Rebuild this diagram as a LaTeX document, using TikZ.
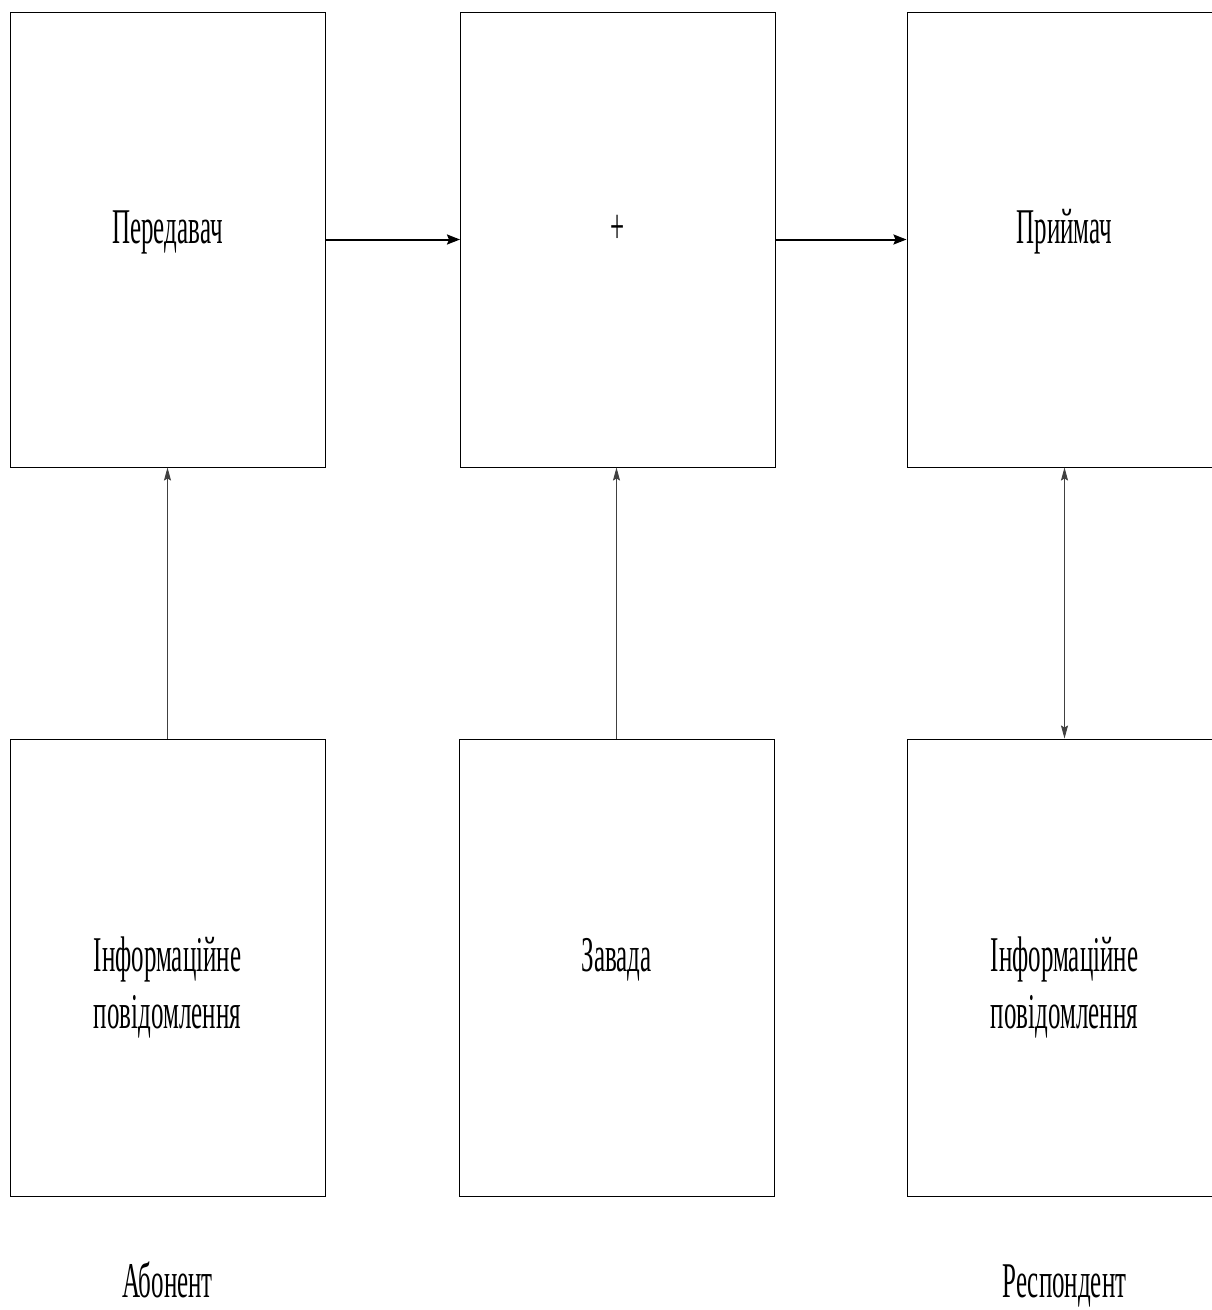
\documentclass[tikz,border=0pt]{standalone}
\usepackage{fontspec}
\setmainfont{Liberation Serif}
\newfontfamily\narrowfont[FakeStretch=0.5]{Liberation Serif}
\usetikzlibrary{arrows.meta,positioning}

\begin{document}
\begin{tikzpicture}[x=1pt,y=-1pt,>={Stealth[length=13pt,width=10pt,inset=2pt]},
 block/.style={draw,line width=1pt,minimum width=315pt,inner sep=0pt},
 txt/.style={font=\narrowfont\fontsize{50}{57}\selectfont,align=center,anchor=base},
 arr/.style={->,line width=2pt},
 link/.style={line width=0.9pt,draw=black!75,>={Stealth[length=13pt,width=7pt,inset=2pt]}}]
\useasboundingbox (0,0) rectangle (1212,1310);
\clip (0,0) rectangle (1212,1310);
% top row
\node[block,minimum height=455pt] (tx) at (167.5,239.5) {};
\node[block,minimum height=455pt] (sum) at (618,239.5) {};
\node[block,minimum height=455pt] (rx) at (1064.5,239.5) {};
% bottom row
\node[block,minimum height=457pt] (src) at (167.5,967.5) {};
\node[block,minimum height=457pt] (noise) at (616.5,967.5) {};
\node[block,minimum height=457pt] (dst) at (1064.5,967.5) {};
% texts
\node[txt] (txlbl) at ([yshift=-4pt]tx.center) {Передавач};
\node[txt] (sumlbl) at ([yshift=-4pt]sum.center) {+};
\node[txt] (rxlbl) at ([yshift=-4pt]rx.center) {Приймач};
\node[txt] (srclbl) at ([yshift=-61pt]src.center) {Інформаційне\\повідомлення};
\node[txt] (noiselbl) at ([yshift=-4pt]noise.center) {Завада};
\node[txt] (dstlbl) at ([yshift=-61pt]dst.center) {Інформаційне\\повідомлення};
\node[txt] (abon) at (167.5,1297) {Абонент};
\node[txt] (resp) at (1064.5,1297) {Респондент};
% connectors
\draw[arr] (tx.east) -- (sum.west);
\draw[arr] (sum.east) -- (rx.west);
\draw[link,->] (src.north) -- (src.north |- tx.south);
\draw[link,->] (noise.north) -- (noise.north |- sum.south);
\draw[link,<->] (dst.north) -- (dst.north |- rx.south);
\end{tikzpicture}
\end{document}
